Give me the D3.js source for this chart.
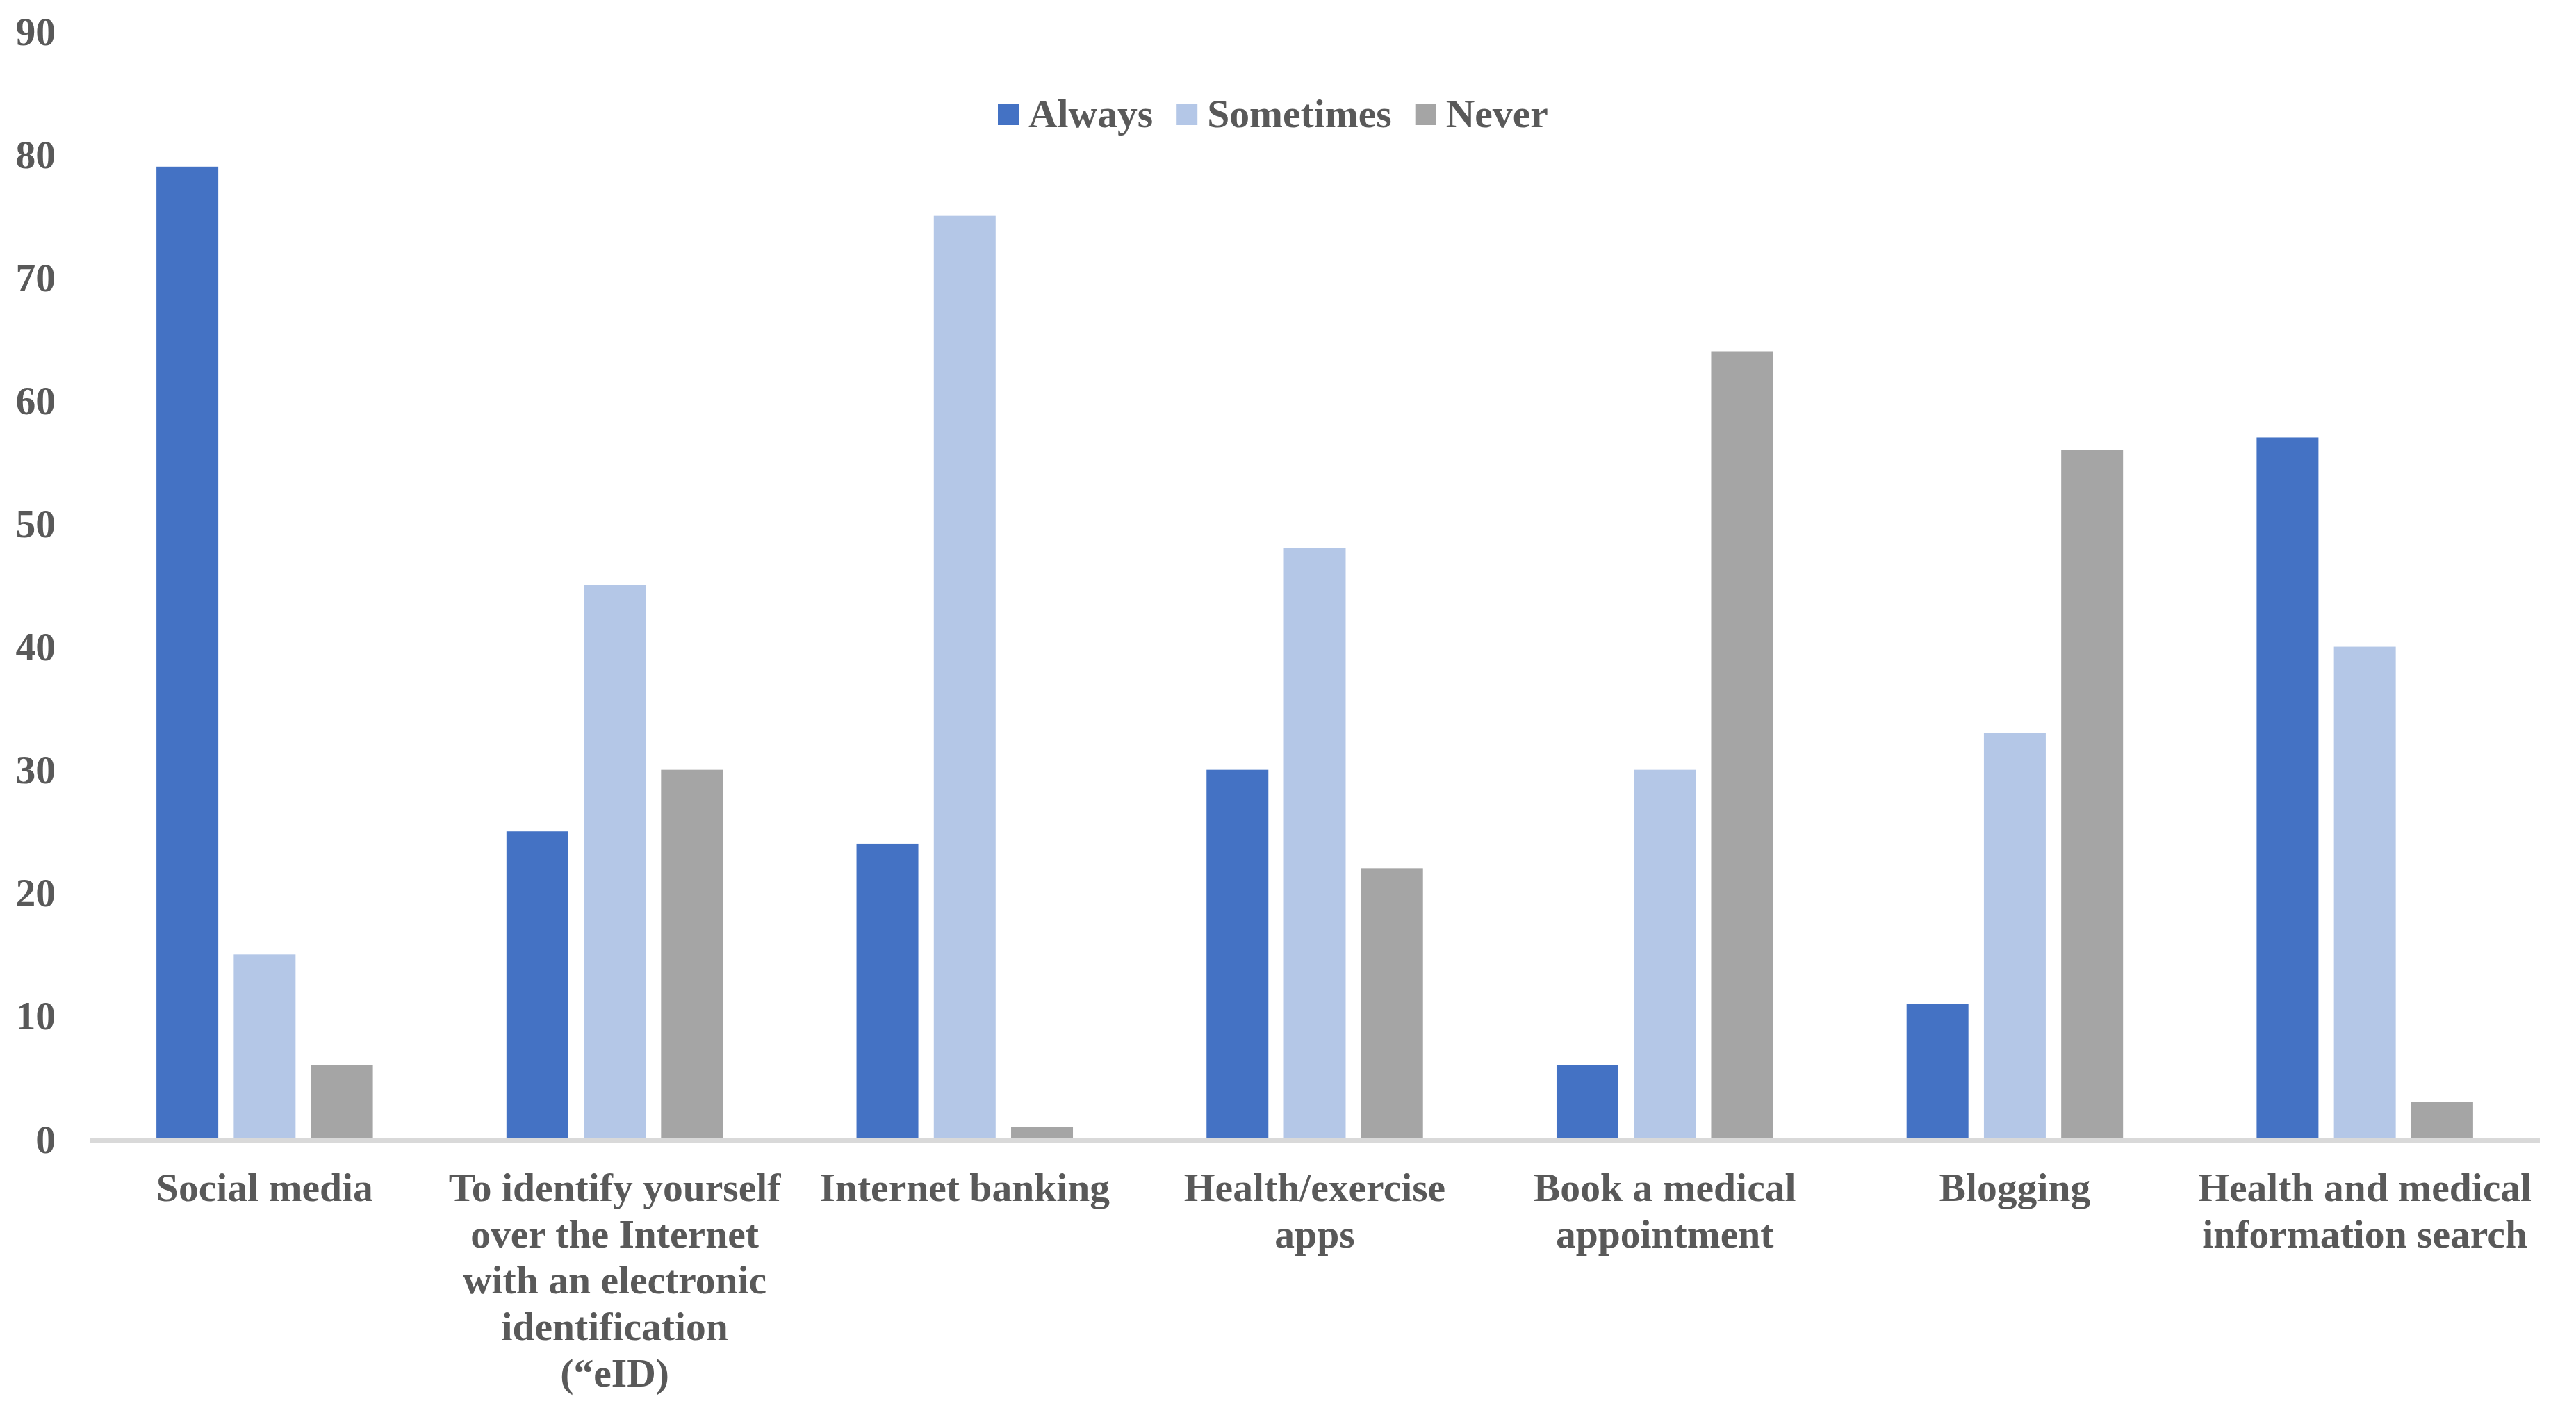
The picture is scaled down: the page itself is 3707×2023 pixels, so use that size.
<!DOCTYPE html>
<html>
<head>
<meta charset="utf-8">
<script src="https://cdn.jsdelivr.net/npm/d3@7"></script>
<style>
  body { margin: 0; background: #fff; }
  text { font-family: "Liberation Serif", "Times New Roman", serif; font-weight: bold; fill: #595959; }
</style>
</head>
<body>
<div id="chart"></div>
<script>
// data
const categories = ['Social media', 'To identify yourself', 'Internet banking', 'Health/exercise apps',
  'Book a medical appointment', 'Blogging', 'Health and medical information search'];
const categoryLabels = [
  ['Social media'],
  ['To identify yourself', 'over the Internet', 'with an electronic', 'identification', '(\u201ceID)'],
  ['Internet banking'],
  ['Health/exercise', 'apps'],
  ['Book a medical', 'appointment'],
  ['Blogging'],
  ['Health and medical', 'information search']
];
const series = ['Always', 'Sometimes', 'Never'];
const always = [79, 25, 24, 30, 6, 11, 57];
const sometimes = [15, 45, 75, 48, 30, 33, 40];
const never = [6, 30, 1, 22, 64, 56, 3];
const yTicks = [0, 10, 20, 30, 40, 50, 60, 70, 80, 90];

const colors = ['#4472C4', '#B4C7E7', '#A5A5A5'];
const values = [always, sometimes, never];

const width = 3707;
const height = 2023;
const left = 129, right = 3655;
const fontSize = 57.6;

const svg = d3.select('#chart')
  .append('svg')
  .attr('width', width)
  .attr('height', height);

const x = d3.scaleBand()
  .domain(categories)
  .range([left, right]);

const x1 = d3.scaleBand()
  .domain(series)
  .range([0, x.bandwidth()])
  .paddingInner(0.2)
  .paddingOuter(0.864);

const y = d3.scaleLinear()
  .domain([0, 90])
  .range([1639, 45]);

const color = d3.scaleOrdinal().domain(series).range(colors);

// y labels
svg.append('g')
  .selectAll('text')
  .data(yTicks)
  .enter()
  .append('text')
  .attr('x', 80)
  .attr('y', d => y(d))
  .attr('dy', '0.34em')
  .attr('text-anchor', 'end')
  .attr('font-size', fontSize)
  .text(d => d);

// bars
const rows = categories.map((c, i) => ({ cat: c, vals: series.map((s, j) => ({ s, v: values[j][i] })) }));

const groups = svg.append('g')
  .selectAll('g')
  .data(rows)
  .enter()
  .append('g')
  .attr('transform', d => `translate(${x(d.cat)},0)`);

groups.selectAll('rect')
  .data(d => d.vals)
  .enter()
  .append('rect')
  .attr('x', d => x1(d.s))
  .attr('y', d => y(d.v))
  .attr('width', x1.bandwidth())
  .attr('height', d => y(0) - y(d.v))
  .attr('fill', d => color(d.s));

// baseline
svg.append('line')
  .attr('x1', left)
  .attr('x2', right)
  .attr('y1', y(0) + 2)
  .attr('y2', y(0) + 2)
  .attr('stroke', '#D9D9D9')
  .attr('stroke-width', 7);

// category labels
const labels = svg.append('g')
  .selectAll('text')
  .data(categories)
  .enter()
  .append('text')
  .attr('text-anchor', 'middle')
  .attr('font-size', fontSize)
  .attr('x', d => x(d) + x.bandwidth() / 2)
  .attr('y', 1728);

labels.selectAll('tspan')
  .data((d, i) => categoryLabels[i])
  .enter()
  .append('tspan')
  .attr('x', function () { return this.parentNode.getAttribute('x'); })
  .attr('dy', (d, i) => i === 0 ? 0 : 66.7)
  .text(d => d);

// legend
const legend = svg.append('g');
let lx = 1436;
series.forEach(s => {
  legend.append('rect')
    .attr('x', lx)
    .attr('y', 149)
    .attr('width', 30)
    .attr('height', 31)
    .attr('fill', color(s));
  const t = legend.append('text')
    .attr('x', lx + 44)
    .attr('y', 183)
    .attr('font-size', fontSize)
    .text(s);
  lx += 44 + t.node().getComputedTextLength() + 34;
});
</script>
</body>
</html>
